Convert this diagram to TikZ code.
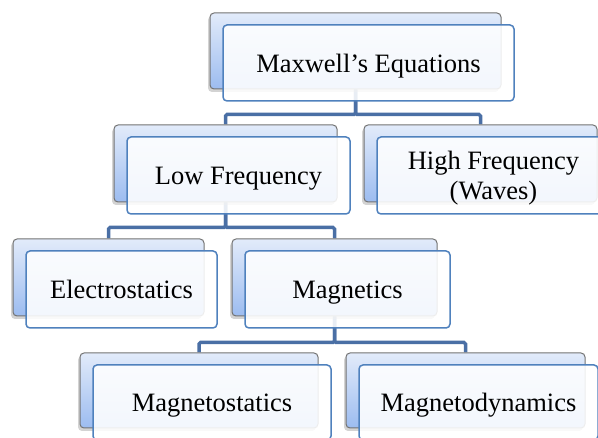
\documentclass[tikz,border=0pt]{standalone}
\usepackage{fontspec}
\setmainfont{Liberation Serif}
\usepackage{tikz}
\usetikzlibrary{shadows, backgrounds, calc}

\definecolor{boxline}{HTML}{4F81BD}
\definecolor{linkblue}{HTML}{4A6FA5}
\definecolor{shadetop}{HTML}{E2EBFA}
\definecolor{shadebot}{HTML}{9CBCF0}

\begin{document}
\begin{tikzpicture}[x=1pt, y=-1pt,
    backbox/.style={rectangle, rounded corners=4pt, draw=gray!90!black, line width=1pt,
      top color=shadetop, bottom color=shadebot, inner sep=0pt,
      drop shadow={shadow xshift=-2pt, shadow yshift=-3pt, opacity=0.35}},
    frontbox/.style={rectangle, rounded corners=4pt, draw=boxline, line width=1.5pt,
      fill=white, fill opacity=0.88, text opacity=1, inner sep=0pt, align=center,
      text depth=0pt, font=\fontsize{26.5}{30}\selectfont},
    link/.style={linkblue, line width=3.5pt, rounded corners=1.5pt}
  ]
  \useasboundingbox (0,0) rectangle (598,438);
  \clip (0,0) rectangle (598,438);

  % --- back boxes ---
  \node[backbox, minimum width=291pt, minimum height=76pt] (mxbg) at (355.5,51) {};
  \node[backbox, minimum width=223pt, minimum height=77pt] (lfbg) at (225.5,163.5) {};
  \node[backbox, minimum width=233pt, minimum height=77pt] (hfbg) at (480.5,163.5) {};
  \node[backbox, minimum width=191pt, minimum height=77pt] (esbg) at (108.5,277.5) {};
  \node[backbox, minimum width=205pt, minimum height=77pt] (mgbg) at (334.5,277.5) {};
  \node[backbox, minimum width=238pt, minimum height=75pt] (msbg) at (199,390.5) {};
  \node[backbox, minimum width=239pt, minimum height=75pt] (mdbg) at (465.5,390.5) {};

  % --- front boxes with the text ---
  \node[frontbox, minimum width=291pt, minimum height=76pt] (mx) at ([shift={(13,12)}]mxbg) {Maxwell’s Equations};
  \node[frontbox, minimum width=223pt, minimum height=77pt] (lf) at ([shift={(13,12)}]lfbg) {Low Frequency};
  \node[frontbox, minimum width=233pt, minimum height=77pt] (hf) at ([shift={(13,12)}]hfbg) {High Frequency\\(Waves)};
  \node[frontbox, minimum width=191pt, minimum height=77pt] (es) at ([shift={(13,12)}]esbg) {Electrostatics};
  \node[frontbox, minimum width=205pt, minimum height=77pt] (mg) at ([shift={(13,12)}]mgbg) {Magnetics};
  \node[frontbox, minimum width=238pt, minimum height=75pt] (ms) at ([shift={(13,12)}]msbg) {Magnetostatics};
  \node[frontbox, minimum width=239pt, minimum height=75pt] (md) at ([shift={(13,12)}]mdbg) {Magnetodynamics};

  % --- connectors ---
  \begin{pgfonlayer}{background}
    \draw[link] (mxbg.south) -- ++(0,25) -| (lfbg.north);
    \draw[link] (mxbg.south) -- ++(0,25) -| (hfbg.north);
    \draw[link] (lfbg.south) -- ++(0,25) -| (esbg.north);
    \draw[link] (lfbg.south) -- ++(0,25) -| (mgbg.north);
    \draw[link] (mgbg.south) -- ++(0,26) -| (msbg.north);
    \draw[link] (mgbg.south) -- ++(0,26) -| (mdbg.north);
  \end{pgfonlayer}
\end{tikzpicture}
\end{document}
